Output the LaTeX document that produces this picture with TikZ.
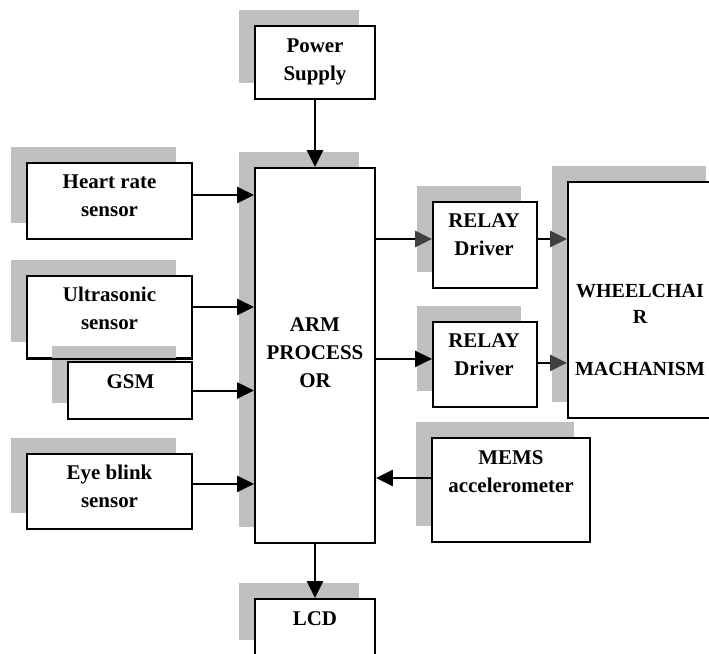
\documentclass[tikz,border=0pt]{standalone}
\usepackage{fontspec}
\setmainfont{Liberation Serif}
\usetikzlibrary{arrows.meta,shadows}
\definecolor{shade}{RGB}{192,192,192}
\definecolor{tipgray}{RGB}{64,64,64}
\begin{document}
\begin{tikzpicture}[
  box/.style={draw, fill=white, line width=1.4pt, inner sep=0pt,
    drop shadow={shadow xshift=-0.4cm, shadow yshift=0.4cm, fill=shade, opacity=1}},
  txt/.style={inner sep=0pt, align=center, font=\bfseries\fontsize{14.9}{19.9}\selectfont},
  arr/.style={line width=1.4pt, -{Triangle[length=0.42cm,width=0.4cm]}},
  grayarr/.style={line width=1.4pt, -{Triangle[length=0.42cm,width=0.4cm,color=tipgray]}}]
\useasboundingbox (0,0) rectangle (17.725,-16.35);
\node[box, minimum width=3.0cm, minimum height=1.825cm] (power) at (7.875,-1.563) {};
\node[txt] (powertxt) at (7.875,-1.538) {Power\\Supply};
\node[box, minimum width=3.0cm, minimum height=9.375cm] (arm) at (7.875,-8.888) {};
\node[txt] (armtxt) at (7.875,-8.813) {ARM\\PROCESS\\OR};
\node[box, minimum width=4.125cm, minimum height=1.9cm] (heart) at (2.738,-5.025) {};
\node[txt] (hearttxt) at (2.738,-4.9) {Heart rate\\sensor};
\node[box, minimum width=4.125cm, minimum height=2.05cm] (ultra) at (2.738,-7.925) {};
\node[txt] (ultratxt) at (2.738,-7.713) {Ultrasonic\\sensor};
\node[box, minimum width=3.1cm, minimum height=1.425cm] (gsm) at (3.25,-9.763) {};
\draw[line width=1.4pt] (ultra.south west) -- (ultra.south east);
\node[txt] (gsmtxt) at (3.263,-9.538) {GSM};
\node[box, minimum width=4.125cm, minimum height=1.875cm] (eye) at (2.738,-12.288) {};
\node[txt] (eyetxt) at (2.738,-12.163) {Eye blink\\sensor};
\node[box, minimum width=2.6cm, minimum height=2.15cm] (relayA) at (12.125,-6.125) {};
\node[txt] (relayAtxt) at (12.1,-5.875) {RELAY\\Driver};
\node[box, minimum width=2.6cm, minimum height=2.125cm] (relayB) at (12.125,-9.113) {};
\node[txt] (relayBtxt) at (12.1,-8.875) {RELAY\\Driver};
\node[box, minimum width=3.85cm, minimum height=5.9cm] (wheel) at (16.125,-7.5) {};
\node[txt, font=\bfseries\fontsize{14.2}{18.5}\selectfont] (wheeltxt) at (16.0,-8.25) {WHEELCHAI\\R\\[0.65cm]MACHANISM};
\node[box, minimum width=3.95cm, minimum height=2.6cm] (mems) at (12.775,-12.25) {};
\node[txt] (memstxt) at (12.775,-11.8) {MEMS\\accelerometer};
\node[box, minimum width=3.0cm, minimum height=1.425cm] (lcd) at (7.875,-15.688) {};
\node[txt] (lcdtxt) at (7.875,-15.463) {LCD};
\draw[arr] (power) -- (arm);
\draw[arr] ([yshift=0.15cm]heart.east) -- ([yshift=0.15cm]heart.east -| arm.west);
\draw[arr] ([yshift=0.25cm]ultra.east) -- ([yshift=0.25cm]ultra.east -| arm.west);
\draw[arr] (gsm.east) -- (gsm.east -| arm.west);
\draw[arr] ([yshift=0.19cm]eye.east) -- ([yshift=0.19cm]eye.east -| arm.west);
\draw[grayarr] ([yshift=0.15cm]relayA.west -| arm.east) -- ([yshift=0.15cm]relayA.west);
\draw[arr] ([yshift=0.14cm]relayB.west -| arm.east) -- ([yshift=0.14cm]relayB.west);
\draw[grayarr] ([yshift=0.15cm]relayA.east) -- ([yshift=0.15cm]relayA.east -| wheel.west);
\draw[grayarr] ([yshift=0.04cm]relayB.east) -- ([yshift=0.04cm]relayB.east -| wheel.west);
\draw[arr] ([yshift=0.3cm]mems.west) -- ([yshift=0.3cm]mems.west -| arm.east);
\draw[arr] (arm) -- (lcd);
\end{tikzpicture}
\end{document}
